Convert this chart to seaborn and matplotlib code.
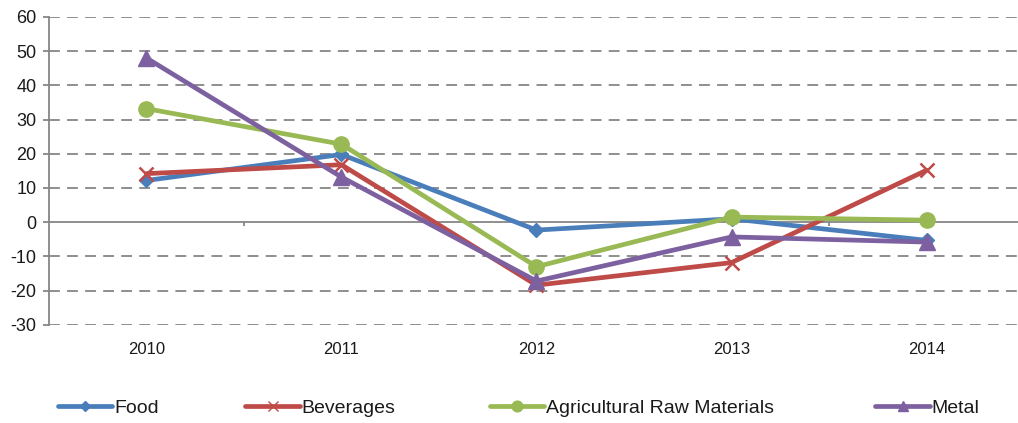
import matplotlib
matplotlib.use("Agg")
import matplotlib.pyplot as plt
import seaborn as sns
import pandas as pd
from matplotlib.lines import Line2D

years = ["2010", "2011", "2012", "2013", "2014"]
food = [12.2, 19.8, -2.3, 1.0, -5.3]
beverages = [14.2, 16.8, -18.4, -11.8, 15.2]
agri = [33.2, 22.8, -13.0, 1.5, 0.6]
metal = [48.0, 13.2, -17.2, -4.3, -5.8]
series_names = ["Food", "Beverages", "Agricultural Raw Materials", "Metal"]
colors = ["#4A7EBB", "#BE4B48", "#98B954", "#7D60A0"]
yticks = [-30, -20, -10, 0, 10, 20, 30, 40, 50, 60]

sns.set_style("white")
plt.rcParams["font.family"] = ["Liberation Sans", "DejaVu Sans"]
plt.rcParams["text.color"] = "black"
plt.rcParams["xtick.color"] = "black"
plt.rcParams["ytick.color"] = "black"

fig = plt.figure(figsize=(10.18, 4.23), dpi=100)
ax = fig.add_axes([0.048, 0.232, 0.958, 0.728])

markers = {"Food": "D", "Beverages": "x", "Agricultural Raw Materials": "o", "Metal": "^"}
sizes = {"Food": 7, "Beverages": 10, "Agricultural Raw Materials": 11, "Metal": 11}
palette = dict(zip(series_names, colors))

for name, vals in zip(series_names, [food, beverages, agri, metal]):
    d = pd.DataFrame({"idx": list(range(len(years))), "value": vals})
    sns.lineplot(data=d, x="idx", y="value", color=palette[name], linewidth=3.4,
                 marker=markers[name], markersize=sizes[name],
                 markeredgecolor=palette[name],
                 markeredgewidth=1.8 if name == "Beverages" else 1.0,
                 ax=ax, zorder=3)

ax.set_ylim(-30, 60)
ax.set_xlim(-0.5, len(years) - 0.5)
ax.set_yticks(yticks)
ax.set_yticklabels([str(t) for t in yticks], fontsize=13)
for t in yticks:
    if t != 0:
        ax.axhline(t, color="#868686", lw=1.3, ls=(0, (6, 4)), zorder=1)
ax.axhline(0, color="#868686", lw=1.3, zorder=1)

for s in ["top", "right", "bottom"]:
    ax.spines[s].set_visible(False)
ax.spines["left"].set_color("#868686")
ax.spines["left"].set_linewidth(1.3)
ax.tick_params(axis="y", left=True, length=4, color="#868686", labelcolor="#1a1a1a",
               width=1.3, pad=5)

ax.set_xticks(range(len(years)))
ax.set_xticklabels(years, fontsize=12)
ax.tick_params(axis="x", which="major", length=0, pad=12, labelcolor="#1a1a1a")
ax.set_xlabel("")
ax.set_ylabel("")

for b in [i + 0.5 for i in range(len(years) - 1)]:
    ax.plot([b, b], [0, -1.2], color="#868686", lw=1.3, zorder=1, solid_capstyle="butt")

legend_x = [0.057, 0.241, 0.481, 0.860]
for n, lx in zip(series_names, legend_x):
    h = Line2D([0], [0], color=palette[n], lw=3.4, marker=markers[n],
               markersize=sizes[n] * 0.7, markeredgecolor=palette[n])
    lg = fig.legend([h], [n], loc="center left", bbox_to_anchor=(lx, 0.035),
                    frameon=False, handlelength=2.8, handletextpad=0.1,
                    borderpad=0, borderaxespad=0,
                    prop={"family": "Liberation Sans", "size": 14})
    for t in lg.get_texts():
        t.set_color("#1a1a1a")

fig.savefig("out.png", dpi=100)
